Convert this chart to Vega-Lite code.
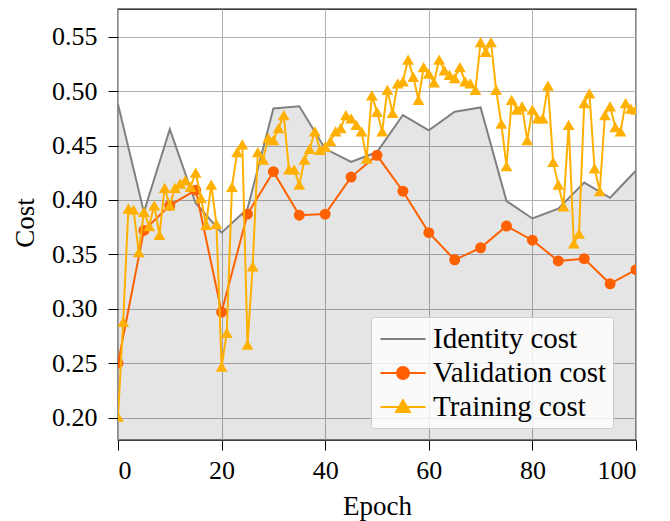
{
  "$schema": "https://vega.github.io/schema/vega-lite/v6.json",
  "width": 518,
  "height": 431,
  "autosize": "none",
  "padding": {"left": 118, "top": 9, "right": 34, "bottom": 81},
  "background": "white",
  "config": {
    "font": "Liberation Serif",
    "view": {"stroke": "black", "strokeWidth": 1.3},
    "axis": {
      "domain": false,
      "grid": true,
      "gridColor": "#b0b0b0",
      "gridWidth": 1,
      "tickColor": "black",
      "tickSize": 10,
      "tickWidth": 1,
      "labelFont": "Liberation Serif",
      "labelFontSize": 26,
      "labelColor": "black",
      "titleFont": "Liberation Serif",
      "titleFontSize": 27,
      "titleFontWeight": "normal",
      "titleColor": "black"
    }
  },
  "datasets": {
    "identity": [
      {"epoch": 0, "cost": 0.488}, {"epoch": 5, "cost": 0.389}, {"epoch": 10, "cost": 0.465},
      {"epoch": 15, "cost": 0.397}, {"epoch": 20, "cost": 0.370}, {"epoch": 25, "cost": 0.392},
      {"epoch": 30, "cost": 0.484}, {"epoch": 35, "cost": 0.486}, {"epoch": 40, "cost": 0.447},
      {"epoch": 45, "cost": 0.435}, {"epoch": 50, "cost": 0.444}, {"epoch": 55, "cost": 0.478},
      {"epoch": 60, "cost": 0.464}, {"epoch": 65, "cost": 0.481}, {"epoch": 70, "cost": 0.485},
      {"epoch": 75, "cost": 0.399}, {"epoch": 80, "cost": 0.383}, {"epoch": 85, "cost": 0.392},
      {"epoch": 90, "cost": 0.416}, {"epoch": 95, "cost": 0.402}, {"epoch": 100, "cost": 0.427}
    ],
    "validation": [
      {"epoch": 0, "cost": 0.250}, {"epoch": 5, "cost": 0.372}, {"epoch": 10, "cost": 0.395},
      {"epoch": 15, "cost": 0.409}, {"epoch": 20, "cost": 0.297}, {"epoch": 25, "cost": 0.387},
      {"epoch": 30, "cost": 0.426}, {"epoch": 35, "cost": 0.386}, {"epoch": 40, "cost": 0.387},
      {"epoch": 45, "cost": 0.421}, {"epoch": 50, "cost": 0.441}, {"epoch": 55, "cost": 0.408},
      {"epoch": 60, "cost": 0.370}, {"epoch": 65, "cost": 0.345}, {"epoch": 70, "cost": 0.356},
      {"epoch": 75, "cost": 0.376}, {"epoch": 80, "cost": 0.363}, {"epoch": 85, "cost": 0.344},
      {"epoch": 90, "cost": 0.346}, {"epoch": 95, "cost": 0.323}, {"epoch": 100, "cost": 0.336}
    ],
    "training": [
      {"epoch": 0, "cost": 0.201}, {"epoch": 1, "cost": 0.288}, {"epoch": 2, "cost": 0.392},
      {"epoch": 3, "cost": 0.391}, {"epoch": 4, "cost": 0.352}, {"epoch": 5, "cost": 0.389},
      {"epoch": 6, "cost": 0.376}, {"epoch": 7, "cost": 0.395}, {"epoch": 8, "cost": 0.368},
      {"epoch": 9, "cost": 0.411}, {"epoch": 10, "cost": 0.395}, {"epoch": 11, "cost": 0.411},
      {"epoch": 12, "cost": 0.415}, {"epoch": 13, "cost": 0.418}, {"epoch": 14, "cost": 0.412},
      {"epoch": 15, "cost": 0.425}, {"epoch": 16, "cost": 0.402}, {"epoch": 17, "cost": 0.377},
      {"epoch": 18, "cost": 0.414}, {"epoch": 19, "cost": 0.378}, {"epoch": 20, "cost": 0.247},
      {"epoch": 21, "cost": 0.278}, {"epoch": 22, "cost": 0.412}, {"epoch": 23, "cost": 0.444},
      {"epoch": 24, "cost": 0.451}, {"epoch": 25, "cost": 0.267}, {"epoch": 26, "cost": 0.339},
      {"epoch": 27, "cost": 0.444}, {"epoch": 28, "cost": 0.437}, {"epoch": 29, "cost": 0.457},
      {"epoch": 30, "cost": 0.455}, {"epoch": 31, "cost": 0.466}, {"epoch": 32, "cost": 0.478},
      {"epoch": 33, "cost": 0.428}, {"epoch": 34, "cost": 0.428}, {"epoch": 35, "cost": 0.414},
      {"epoch": 36, "cost": 0.437}, {"epoch": 37, "cost": 0.447}, {"epoch": 38, "cost": 0.463},
      {"epoch": 39, "cost": 0.446}, {"epoch": 40, "cost": 0.449}, {"epoch": 41, "cost": 0.454},
      {"epoch": 42, "cost": 0.463}, {"epoch": 43, "cost": 0.466}, {"epoch": 44, "cost": 0.478},
      {"epoch": 45, "cost": 0.475}, {"epoch": 46, "cost": 0.469}, {"epoch": 47, "cost": 0.463},
      {"epoch": 48, "cost": 0.438}, {"epoch": 49, "cost": 0.496}, {"epoch": 50, "cost": 0.481},
      {"epoch": 51, "cost": 0.463}, {"epoch": 52, "cost": 0.501}, {"epoch": 53, "cost": 0.480},
      {"epoch": 54, "cost": 0.507}, {"epoch": 55, "cost": 0.509}, {"epoch": 56, "cost": 0.529},
      {"epoch": 57, "cost": 0.513}, {"epoch": 58, "cost": 0.492}, {"epoch": 59, "cost": 0.522},
      {"epoch": 60, "cost": 0.516}, {"epoch": 61, "cost": 0.508}, {"epoch": 62, "cost": 0.529},
      {"epoch": 63, "cost": 0.519}, {"epoch": 64, "cost": 0.515}, {"epoch": 65, "cost": 0.512},
      {"epoch": 66, "cost": 0.522}, {"epoch": 67, "cost": 0.509}, {"epoch": 68, "cost": 0.507},
      {"epoch": 69, "cost": 0.501}, {"epoch": 70, "cost": 0.545}, {"epoch": 71, "cost": 0.536},
      {"epoch": 72, "cost": 0.545}, {"epoch": 73, "cost": 0.501}, {"epoch": 74, "cost": 0.470},
      {"epoch": 75, "cost": 0.431}, {"epoch": 76, "cost": 0.492}, {"epoch": 77, "cost": 0.483},
      {"epoch": 78, "cost": 0.486}, {"epoch": 79, "cost": 0.455}, {"epoch": 80, "cost": 0.483},
      {"epoch": 81, "cost": 0.475}, {"epoch": 82, "cost": 0.475}, {"epoch": 83, "cost": 0.505},
      {"epoch": 84, "cost": 0.435}, {"epoch": 85, "cost": 0.414}, {"epoch": 86, "cost": 0.394},
      {"epoch": 87, "cost": 0.469}, {"epoch": 88, "cost": 0.360}, {"epoch": 89, "cost": 0.369},
      {"epoch": 90, "cost": 0.489}, {"epoch": 91, "cost": 0.498}, {"epoch": 92, "cost": 0.429},
      {"epoch": 93, "cost": 0.408}, {"epoch": 94, "cost": 0.478}, {"epoch": 95, "cost": 0.486},
      {"epoch": 96, "cost": 0.467}, {"epoch": 97, "cost": 0.463}, {"epoch": 98, "cost": 0.489},
      {"epoch": 99, "cost": 0.484}, {"epoch": 100, "cost": 0.483}
    ]
  },
  "encoding": {
    "x": {
      "field": "epoch", "type": "quantitative",
      "scale": {"domain": [0, 100], "nice": false, "zero": false},
      "axis": {"values": [0, 20, 40, 60, 80, 100], "title": "Epoch", "labelBaseline": "alphabetic", "labelPadding": 28, "titleBaseline": "alphabetic", "titleY": 74}
    },
    "y": {
      "field": "cost", "type": "quantitative",
      "scale": {"domain": [0.1795, 0.5754], "nice": false, "zero": false},
      "axis": {"values": [0.2, 0.25, 0.3, 0.35, 0.4, 0.45, 0.5, 0.55], "format": ".2f", "title": "Cost", "labelPadding": 11, "titleBaseline": "alphabetic", "titleX": -85, "titleY": 213.5, "titleAlign": "center", "titleAngle": 270}
    }
  },
  "layer": [
    {
      "data": {"name": "identity"},
      "mark": {"type": "area", "color": "black", "opacity": 0.1, "clip": true},
      "encoding": {}
    },
    {
      "data": {"name": "identity"},
      "transform": [{"calculate": "'Identity cost'", "as": "series"}],
      "mark": {"type": "line", "strokeWidth": 2, "clip": true},
      "encoding": {
        "color": {
          "field": "series", "type": "nominal",
          "scale": {"domain": ["Identity cost", "Validation cost", "Training cost"], "range": ["#808080", "#ff6000", "#ffb000"]},
          "legend": {
            "title": null,
            "orient": "none",
            "legendX": 253,
            "legendY": 308,
            "padding": 6,
            "fillColor": "rgba(255,255,255,0.8)",
            "strokeColor": "#cccccc",
            "cornerRadius": 3,
            "labelFont": "Liberation Serif",
            "labelFontSize": 29,
            "labelLimit": 400,
            "labelColor": "black",
            "labelOffset": 14,
            "symbolSize": 900,
            "symbolOffset": 10,
            "symbolStrokeWidth": 2,
            "rowPadding": 3,
            "encode": {
              "symbols": {
                "update": {
                  "shape": {"signal": "datum.value === 'Identity cost' ? 'M-1.5,0H1.5' : datum.value === 'Validation cost' ? 'M-1.5,0H1.5M0.4,0A0.4,0.4,0,1,1,-0.4,0A0.4,0.4,0,1,1,0.4,0Z' : 'M-1.5,0H1.5M0,-0.45L0.46,0.33L-0.46,0.33Z'"},
                  "fill": {"signal": "scale('color', datum.value)"},
                  "stroke": {"signal": "scale('color', datum.value)"},
                  "opacity": {"value": 1}
                }
              }
            }
          }
        }
      }
    },
    {
      "data": {"name": "validation"},
      "transform": [{"calculate": "'Validation cost'", "as": "series"}],
      "mark": {"type": "line", "strokeWidth": 2, "clip": true},
      "encoding": {"color": {"field": "series", "type": "nominal"}}
    },
    {
      "data": {"name": "validation"},
      "mark": {"type": "point", "shape": "circle", "filled": true, "size": 120, "color": "#ff6000", "opacity": 1, "clip": true},
      "encoding": {}
    },
    {
      "data": {"name": "training"},
      "transform": [{"calculate": "'Training cost'", "as": "series"}],
      "mark": {"type": "line", "strokeWidth": 2, "clip": true},
      "encoding": {"color": {"field": "series", "type": "nominal"}}
    },
    {
      "data": {"name": "training"},
      "mark": {"type": "point", "shape": "triangle-up", "filled": true, "size": 140, "color": "#ffb000", "opacity": 1, "clip": true},
      "encoding": {}
    }
  ]
}
